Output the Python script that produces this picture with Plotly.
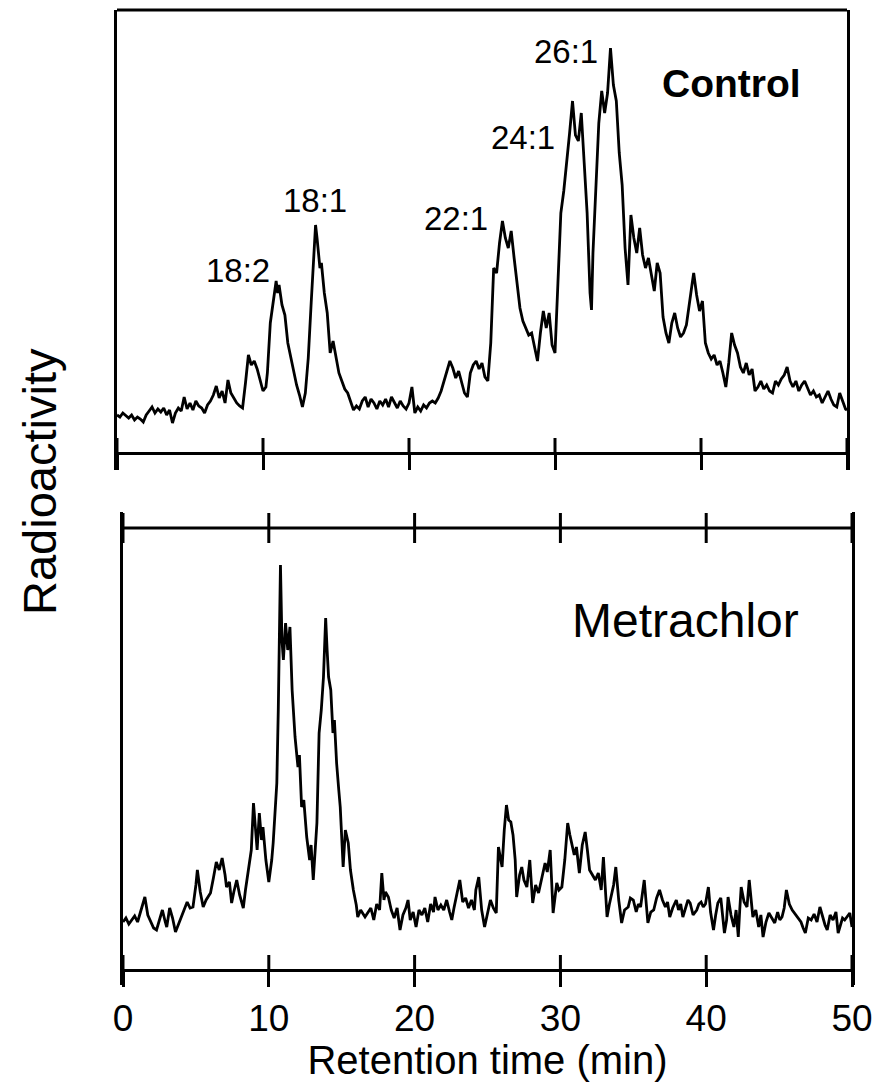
import plotly.graph_objects as go

# ---------------- data (arbitrary radioactivity units) ----------------
control_time = [
    0.0, 0.2, 0.4, 0.6, 0.8, 1.0, 1.2, 1.4, 1.6, 1.8, 2.0, 2.2, 2.4, 2.6, 2.8, 3.0, 3.2, 3.4, 3.6, 3.8,
    4.0, 4.2, 4.4, 4.6, 4.8, 5.0, 5.2, 5.4, 5.6, 5.8, 6.0, 6.2, 6.4, 6.6, 6.8, 7.0, 7.2, 7.4, 7.6, 7.8,
    8.0, 8.2, 8.4, 8.6, 8.8, 9.0, 9.2, 9.4, 9.6, 9.8, 10.0, 10.2, 10.3, 10.5, 10.7, 10.9, 11.0, 11.1, 11.3, 11.5,
    11.7, 11.9, 12.1, 12.3, 12.5, 12.7, 12.9, 13.1, 13.3, 13.5, 13.6, 13.7, 13.9, 14.0, 14.2, 14.4, 14.6, 14.8, 15.0, 15.2,
    15.4, 15.6, 15.8, 16.0, 16.2, 16.4, 16.6, 16.8, 17.0, 17.2, 17.4, 17.6, 17.8, 18.0, 18.2, 18.4, 18.6, 18.8, 19.0, 19.2,
    19.4, 19.6, 19.8, 20.0, 20.2, 20.4, 20.6, 20.8, 21.0, 21.2, 21.4, 21.6, 21.8, 22.0, 22.2, 22.4, 22.6, 22.8, 23.0, 23.2,
    23.4, 23.6, 23.8, 24.0, 24.2, 24.4, 24.6, 24.8, 25.0, 25.2, 25.4, 25.6, 25.8, 26.0, 26.2, 26.4, 26.6, 26.8, 27.0, 27.2,
    27.4, 27.6, 27.8, 28.0, 28.2, 28.4, 28.6, 28.8, 29.0, 29.2, 29.4, 29.6, 29.8, 30.0, 30.2, 30.4, 30.6, 30.8, 31.0, 31.2,
    31.4, 31.6, 31.8, 32.0, 32.2, 32.4, 32.5, 32.6, 32.8, 33.0, 33.2, 33.4, 33.6, 33.8, 34.0, 34.2, 34.4, 34.6, 34.8, 35.0,
    35.2, 35.4, 35.6, 35.8, 36.0, 36.2, 36.4, 36.6, 36.8, 37.0, 37.2, 37.4, 37.6, 37.8, 38.0, 38.2, 38.4, 38.6, 38.8, 39.0,
    39.2, 39.4, 39.5, 39.7, 39.9, 40.1, 40.3, 40.5, 40.7, 40.9, 41.1, 41.3, 41.5, 41.7, 41.9, 42.1, 42.3, 42.5, 42.7, 42.9,
    43.1, 43.3, 43.5, 43.7, 43.9, 44.1, 44.3, 44.5, 44.7, 44.9, 45.1, 45.3, 45.5, 45.7, 45.9, 46.1, 46.3, 46.5, 46.7, 46.9,
    47.1, 47.3, 47.5, 47.7, 47.9, 48.1, 48.3, 48.5, 48.7, 48.9, 49.1, 49.3, 49.5, 49.7, 49.9, 50.0,
]
control_signal = [
    38, 36, 40, 37, 35, 38, 33, 36, 34, 31, 38, 42, 46, 40, 44, 41, 45, 38, 43, 30,
    40, 45, 42, 56, 44, 50, 43, 52, 47, 45, 40, 48, 52, 58, 67, 55, 62, 50, 73, 60,
    55, 50, 47, 45, 70, 98, 88, 92, 84, 72, 62, 66, 80, 130, 150, 172, 160, 168, 148, 138,
    110, 95, 82, 68, 58, 46, 60, 95, 150, 205, 228, 215, 185, 190, 160, 140, 100, 112, 95, 80,
    72, 64, 60, 52, 43, 47, 44, 52, 56, 46, 54, 50, 44, 52, 48, 54, 46, 56, 50, 45,
    52, 47, 44, 50, 66, 40, 46, 42, 48, 45, 50, 52, 50, 55, 62, 72, 80, 92, 85, 75,
    82, 70, 60, 56, 80, 88, 92, 84, 90, 76, 72, 110, 185, 180, 210, 232, 215, 205, 222, 195,
    172, 145, 132, 125, 118, 120, 105, 92, 120, 142, 125, 140, 108, 100, 170, 240, 262, 295, 320, 352,
    318, 312, 340, 290, 240, 160, 143, 200, 260, 330, 362, 340, 360, 405, 368, 352, 300, 268, 205, 168,
    238, 215, 200, 225, 198, 185, 195, 178, 162, 190, 180, 136, 120, 110, 130, 140, 125, 116, 120, 128,
    152, 170, 180, 158, 142, 152, 110, 100, 94, 98, 88, 92, 80, 66, 90, 120, 108, 100, 86, 80,
    90, 78, 84, 62, 66, 72, 64, 68, 62, 60, 72, 68, 74, 78, 86, 72, 66, 72, 62, 68,
    72, 64, 58, 62, 56, 58, 50, 56, 62, 54, 48, 46, 60, 52, 44, 43,
]

metr_time = [
    0.0, 0.2, 0.4, 0.6, 0.8, 1.0, 1.2, 1.4, 1.5, 1.7, 1.9, 2.1, 2.3, 2.5, 2.7, 2.9, 3.0, 3.2, 3.4, 3.6,
    3.8, 4.0, 4.2, 4.4, 4.6, 4.8, 5.0, 5.1, 5.3, 5.5, 5.7, 5.9, 6.0, 6.2, 6.4, 6.6, 6.8, 7.0, 7.1, 7.3,
    7.45, 7.6, 7.8, 8.0, 8.25, 8.4, 8.6, 8.8, 8.95, 9.1, 9.2, 9.35, 9.5, 9.6, 9.8, 10.0, 10.2, 10.3, 10.45, 10.55,
    10.65, 10.7, 10.8, 10.9, 11.0, 11.15, 11.3, 11.45, 11.6, 11.8, 12.0, 12.1, 12.25, 12.4, 12.6, 12.8, 12.9, 13.05, 13.2, 13.3,
    13.45, 13.6, 13.75, 13.9, 14.0, 14.1, 14.25, 14.4, 14.5, 14.65, 14.8, 14.9, 15.1, 15.25, 15.45, 15.6, 15.8, 16.0, 16.1, 16.3,
    16.6, 16.8, 17.0, 17.2, 17.4, 17.6, 17.75, 17.9, 18.0, 18.2, 18.4, 18.6, 18.8, 19.0, 19.2, 19.4, 19.55, 19.7, 19.9, 20.1,
    20.3, 20.5, 20.7, 20.9, 21.1, 21.3, 21.4, 21.6, 21.8, 22.0, 22.2, 22.4, 22.55, 22.7, 22.9, 23.1, 23.3, 23.5, 23.7, 23.9,
    24.1, 24.2, 24.4, 24.6, 24.8, 25.0, 25.2, 25.4, 25.6, 25.75, 25.9, 26.0, 26.15, 26.3, 26.45, 26.6, 26.75, 26.9, 27.0, 27.2,
    27.35, 27.5, 27.7, 27.9, 28.1, 28.3, 28.5, 28.7, 28.95, 29.1, 29.3, 29.5, 29.75, 29.9, 30.1, 30.3, 30.5, 30.65, 30.8, 30.95,
    31.1, 31.3, 31.5, 31.7, 31.85, 32.0, 32.2, 32.4, 32.6, 32.8, 32.95, 33.1, 33.2, 33.35, 33.5, 33.65, 33.8, 34.0, 34.2, 34.4,
    34.65, 34.8, 35.0, 35.2, 35.35, 35.5, 35.75, 35.9, 36.0, 36.2, 36.4, 36.6, 36.8, 37.0, 37.2, 37.35, 37.5, 37.7, 37.95, 38.1,
    38.25, 38.4, 38.6, 38.75, 38.9, 39.1, 39.35, 39.5, 39.65, 39.8, 39.95, 40.15, 40.3, 40.5, 40.65, 40.8, 41.0, 41.1, 41.25, 41.4,
    41.5, 41.7, 41.9, 42.05, 42.2, 42.3, 42.4, 42.6, 42.8, 42.95, 43.1, 43.2, 43.4, 43.6, 43.75, 43.9, 44.1, 44.3, 44.5, 44.7,
    44.9, 45.05, 45.2, 45.35, 45.5, 45.7, 45.9, 46.1, 46.3, 46.5, 46.65, 46.8, 47.0, 47.2, 47.4, 47.6, 47.8, 48.0, 48.15, 48.3,
    48.5, 48.7, 48.9, 49.05, 49.2, 49.35, 49.5, 49.7, 49.85, 50.0,
]
metr_signal = [
    48, 52, 46, 50, 54, 48, 58, 66, 73, 55, 48, 42, 40, 50, 60, 48, 43, 62, 52, 38,
    46, 53, 60, 68, 62, 63, 85, 100, 78, 63, 70, 74, 77, 92, 108, 100, 112, 95, 83, 88,
    67, 78, 90, 75, 62, 80, 100, 120, 167, 135, 120, 157, 130, 143, 110, 88, 110, 127, 160, 187,
    260, 320, 405, 330, 310, 347, 320, 343, 280, 233, 203, 215, 163, 170, 133, 110, 125, 90, 120, 147,
    237, 260, 293, 352, 320, 293, 280, 237, 250, 207, 180, 163, 103, 140, 127, 100, 80, 65, 53, 60,
    53, 58, 62, 50, 66, 60, 97, 70, 78, 73, 60, 52, 62, 40, 55, 62, 70, 50, 58, 43,
    60, 55, 62, 48, 66, 58, 73, 60, 65, 60, 70, 58, 50, 62, 75, 90, 68, 72, 62, 70,
    60, 80, 93, 60, 43, 58, 70, 62, 57, 123, 110, 103, 140, 165, 150, 148, 135, 110, 73, 95,
    103, 90, 83, 110, 67, 85, 77, 92, 107, 98, 120, 57, 87, 80, 83, 110, 147, 135, 123, 115,
    123, 97, 125, 138, 120, 100, 95, 90, 97, 80, 113, 75, 53, 65, 77, 85, 103, 70, 47, 60,
    63, 72, 70, 58, 66, 63, 90, 62, 47, 58, 60, 72, 80, 70, 63, 68, 53, 62, 70, 60,
    66, 53, 62, 70, 67, 55, 60, 66, 68, 63, 66, 83, 58, 40, 55, 67, 72, 55, 37, 50,
    73, 55, 43, 60, 33, 60, 83, 68, 63, 90, 65, 53, 60, 43, 55, 33, 48, 57, 52, 47,
    58, 50, 53, 62, 80, 66, 60, 56, 53, 48, 42, 37, 52, 50, 56, 48, 63, 52, 45, 40,
    55, 50, 58, 37, 45, 52, 50, 54, 57, 43,
]

tick_vals = [0, 10, 20, 30, 40, 50]
tick_text = ["0", "10", "20", "30", "40", "50"]

peak_labels = ["18:2", "18:1", "22:1", "24:1", "26:1"]
peak_label_t = [8.3, 13.55, 23.2, 27.8, 30.75]
peak_label_v = [183, 253, 235, 316, 402]

panel_names = ["Control", "Metrachlor"]
x_title = "Retention time (min)"
y_title = "Radioactivity"

# ---------------- figure ----------------
WIN_W, WIN_H = 881, 1090
PAGE = 8                      # default body margin of the html page
W, H = WIN_W - 2 * PAGE, WIN_H - 2 * PAGE
FONT = "Liberation Sans, Arial, Helvetica, sans-serif"
LW = 3


def px(sx):  # screen column -> paper fraction
    return (sx - PAGE) / W


def py(sy):  # screen row -> paper fraction
    return (H - (sy - PAGE)) / H


fig = go.Figure()
fig.add_trace(go.Scatter(x=control_time, y=control_signal, mode="lines",
                         line=dict(color="black", width=2.8), xaxis="x", yaxis="y",
                         showlegend=False, hoverinfo="skip"))
fig.add_trace(go.Scatter(x=metr_time, y=metr_signal, mode="lines",
                         line=dict(color="black", width=2.8), xaxis="x2", yaxis="y2",
                         showlegend=False, hoverinfo="skip"))

common_x = dict(range=[0, 50], tickvals=tick_vals, ticktext=tick_text, showgrid=False,
                zeroline=False, showline=True, linecolor="black", linewidth=LW,
                ticks="outside", ticklen=15, tickwidth=LW, tickcolor="black",
                automargin=False)
common_y = dict(showgrid=False, zeroline=False, showline=True, mirror=True,
                linecolor="black", linewidth=LW, ticks="", showticklabels=False,
                automargin=False)

top_range = [-17, 443]   # value 0 sits on the x axis line of the top panel
bot_range = [-15, 458]   # value 0 sits on the x axis line of the bottom panel
bot_top_line = 442

fig.update_layout(
    template="none",
    width=W, height=H,
    margin=dict(l=0, r=0, t=0, b=0, pad=0, autoexpand=False),
    paper_bgcolor="white", plot_bgcolor="white",
    font=dict(family=FONT, color="black"),
    xaxis=dict(common_x, domain=[px(117), px(847)], anchor="free", position=py(453),
               showticklabels=False),
    yaxis=dict(common_y, domain=[py(470), py(10)], range=top_range),
    xaxis2=dict(common_x, domain=[px(123), px(852)], anchor="free", position=py(970),
                showticklabels=True, tickfont=dict(size=37, family=FONT, color="black"),
                title=dict(text=x_title, font=dict(size=40, family=FONT, color="black"),
                           standoff=19)),
    yaxis2=dict(common_y, domain=[py(985), py(512)], range=bot_range, anchor="x2"),
)

shapes = []
# top border of the upper panel
shapes.append(dict(type="line", xref="x domain", yref="y domain", x0=0, x1=1, y0=1, y1=1,
                   line=dict(color="black", width=LW)))
# top line of the lower panel
shapes.append(dict(type="line", xref="x2 domain", yref="y2", x0=0, x1=1,
                   y0=bot_top_line, y1=bot_top_line, line=dict(color="black", width=LW)))
for tv in tick_vals:
    # upper half of crossing ticks on both x axis lines
    shapes.append(dict(type="line", xref="x", yref="y", x0=tv, x1=tv, y0=0, y1=15,
                       line=dict(color="black", width=LW)))
    shapes.append(dict(type="line", xref="x2", yref="y2", x0=tv, x1=tv, y0=0, y1=15,
                       line=dict(color="black", width=LW)))
    # crossing ticks on the top line of the lower panel
    shapes.append(dict(type="line", xref="x2", yref="y2", x0=tv, x1=tv,
                       y0=bot_top_line - 15, y1=bot_top_line + 15,
                       line=dict(color="black", width=LW)))
fig.update_layout(shapes=shapes)

annotations = []
for lab, t, v in zip(peak_labels, peak_label_t, peak_label_v):
    annotations.append(dict(text=lab, x=t, y=v, xref="x", yref="y", showarrow=False,
                            xanchor="center", yanchor="middle",
                            font=dict(size=33, family=FONT, color="black")))
annotations.append(dict(text="<b>" + panel_names[0] + "</b>", x=42.1, y=370, xref="x", yref="y",
                        showarrow=False, xanchor="center", yanchor="middle",
                        font=dict(size=39, family=FONT, color="black")))
annotations.append(dict(text=panel_names[1], x=38.6, y=350, xref="x2", yref="y2",
                        showarrow=False, xanchor="center", yanchor="middle",
                        font=dict(size=48, family=FONT, color="black")))
annotations.append(dict(text=y_title, x=px(39), y=py(482), xref="paper", yref="paper",
                        textangle=-90, showarrow=False, xanchor="center", yanchor="middle",
                        font=dict(size=47, family=FONT, color="black")))
fig.update_layout(annotations=annotations)

fig.write_html("out.html")
